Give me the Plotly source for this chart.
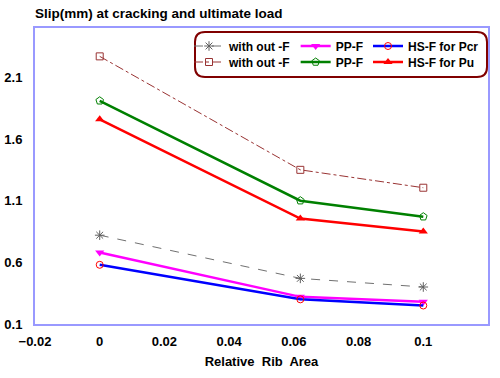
import plotly.graph_objects as go

x_vals = [0, 0.062, 0.1]
without_pcr = [0.82, 0.47, 0.40]
ppf_pcr = [0.68, 0.32, 0.28]
hsf_pcr = [0.58, 0.30, 0.25]
without_pu = [2.27, 1.35, 1.205]
ppf_pu = [1.91, 1.10, 0.97]
hsf_pu = [1.76, 0.955, 0.85]

names = ["with out -F", "PP-F", "HS-F for Pcr", "with out -F", "PP-F", "HS-F for Pu"]

fig = go.Figure()
fig.add_trace(go.Scatter(x=x_vals, y=without_pcr, name=names[0], mode="lines+markers", legend="legend",
                         line=dict(color="#707070", width=1, dash="dash"),
                         marker=dict(symbol="asterisk-open", size=8, color="#606060", line=dict(width=1, color="#606060"))))
fig.add_trace(go.Scatter(x=x_vals, y=ppf_pcr, name=names[1], mode="lines+markers", legend="legend",
                         line=dict(color="#FF00FF", width=2.5),
                         marker=dict(symbol="triangle-down", size=8, color="#FF00FF")))
fig.add_trace(go.Scatter(x=x_vals, y=hsf_pcr, name=names[2], mode="lines+markers", legend="legend",
                         line=dict(color="#0000FF", width=2.5),
                         marker=dict(symbol="circle-open", size=7, color="#FF0000", line=dict(width=1, color="#FF0000"))))
fig.add_trace(go.Scatter(x=x_vals, y=without_pu, name=names[3], mode="lines+markers", legend="legend2",
                         line=dict(color="#993333", width=1, dash="dashdot"),
                         marker=dict(symbol="square-open", size=7, color="#993333", line=dict(width=1, color="#993333"))))
fig.add_trace(go.Scatter(x=x_vals, y=ppf_pu, name=names[4], mode="lines+markers", legend="legend2",
                         line=dict(color="#008000", width=2.5),
                         marker=dict(symbol="pentagon-open", size=8, color="#008000", line=dict(width=1, color="#008000"))))
fig.add_trace(go.Scatter(x=x_vals, y=hsf_pu, name=names[5], mode="lines+markers", legend="legend2",
                         line=dict(color="#FF0000", width=2.5),
                         marker=dict(symbol="triangle-up", size=8, color="#FF0000")))

# rounded legend frame in paper coords
W, H = 453.0, 296.0
x0, x1 = 1 - 293 / W, 1 - 1 / W
y1, y0 = 1 - 4 / H, 1 - 49 / H
rx, ry = 10 / W, 10 / H
path = (f"M{x0+rx},{y1} L{x1-rx},{y1} Q{x1},{y1} {x1},{y1-ry} L{x1},{y0+ry} Q{x1},{y0} {x1-rx},{y0} "
        f"L{x0+rx},{y0} Q{x0},{y0} {x0},{y0+ry} L{x0},{y1-ry} Q{x0},{y1} {x0+rx},{y1} Z")

font_b = "Liberation Sans"
leg_common = dict(orientation="h", xanchor="left", x=1 - 299 / W, yanchor="middle",
                  bgcolor="rgba(0,0,0,0)", borderwidth=0, itemwidth=30,
                  font=dict(family=font_b, size=12, color="black"))
fig.update_layout(
    width=500, height=378,
    margin=dict(l=35, r=12, t=28, b=54),
    paper_bgcolor="white", plot_bgcolor="white",
    font=dict(family=font_b, size=13, color="black"),
    title=dict(text="<b>Slip(mm) at cracking and ultimate load</b>", x=35 / 500, xanchor="left",
               y=1 - 13 / 378, yanchor="middle", font=dict(size=13.5, family=font_b, color="black")),
    showlegend=True,
    legend=dict(**leg_common, y=1 - 18 / H),
    legend2=dict(**leg_common, y=1 - 34 / H),
    shapes=[dict(type="path", xref="paper", yref="paper", path=path,
                 line=dict(color="#800000", width=2), fillcolor="white", layer="above")],
    xaxis=dict(range=[-0.02, 0.12], tick0=-0.02, dtick=0.02, showgrid=False, zeroline=False,
               showline=True, linecolor="#9999FF", linewidth=2, mirror=True, ticks="",
               tickformat="~g", automargin=False,
               tickfont=dict(family=font_b, size=13, color="black"), ticklabelstandoff=4,
               title=dict(text="<b>Relative  Rib  Area</b>", font=dict(family=font_b, size=13, color="black"), standoff=9)),
    yaxis=dict(range=[0.1, 2.5], tick0=0.1, dtick=0.5, showgrid=False, zeroline=False,
               showline=True, linecolor="#9999FF", linewidth=2, mirror=True, ticks="",
               automargin=False,
               tickfont=dict(family=font_b, size=13, color="black"), ticklabelstandoff=8),
)
fig.update_xaxes(tickprefix="<b>", ticksuffix="</b>")
fig.update_yaxes(tickprefix="<b>", ticksuffix="</b>")
for tr in fig.data:
    tr.name = f"<b>{tr.name}</b>"
fig.write_html("out.html")
